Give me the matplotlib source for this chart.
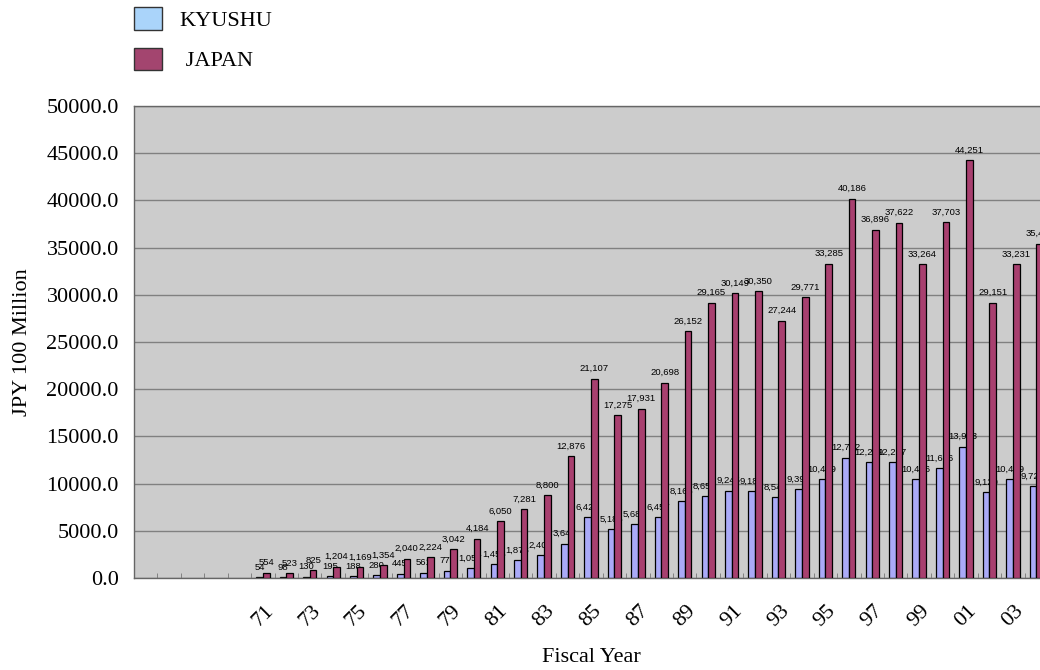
import numpy as np
import matplotlib.pyplot as plt
from matplotlib.patches import Patch

# 年度 (66-70 は空の区分)
years = ['66', '67', '68', '69', '70',
         '71', '72', '73', '74', '75', '76', '77', '78', '79', '80',
         '81', '82', '83', '84', '85', '86', '87', '88', '89', '90',
         '91', '92', '93', '94', '95', '96', '97', '98', '99', '00',
         '01', '02', '03', '04']

kyushu = [np.nan] * 5 + [54, 98, 130, 195, 188, 280, 445, 561, 772, 1057,
                         1456, 1873, 2409, 3647, 6429, 5185, 5687, 6457, 8165, 8658,
                         9245, 9187, 8541, 9391, 10469, 12732, 12259, 12257, 10476, 11636,
                         13913, 9120, 10479, 9721]

japan = [np.nan] * 5 + [554, 523, 825, 1204, 1169, 1354, 2040, 2224, 3042, 4184,
                        6050, 7281, 8800, 12876, 21107, 17275, 17931, 20698, 26152, 29165,
                        30149, 30350, 27244, 29771, 33285, 40186, 36896, 37622, 33264, 37703,
                        44251, 29151, 33231, 35404]

# 奇数年だけラベルを表示
tick_labels = [y if (int(y) % 2 == 1 and y not in ('67', '69')) else '' for y in years]

serif = 'Liberation Serif'
fig = plt.figure(figsize=(10.4, 6.7), dpi=100)
ax = fig.add_axes([134 / 1040, 1 - 578 / 670, 914 / 1040, 472 / 670])
ax.set_facecolor('#cccccc')

x = np.arange(len(years))
w = 0.285
b1 = ax.bar(x - w / 2, kyushu, w, color='#aaaaf8', edgecolor='black', linewidth=0.9, zorder=2)
l1 = ax.bar_label(b1, labels=['' if np.isnan(v) else '{:,.0f}'.format(v) for v in kyushu],
                  padding=4, fontsize=6.8, family='Liberation Sans')
b2 = ax.bar(x + w / 2, japan, w, color='#a8406f', edgecolor='black', linewidth=0.9, zorder=4)
l2 = ax.bar_label(b2, labels=['' if np.isnan(v) else '{:,.0f}'.format(v) for v in japan],
                  padding=4, fontsize=6.8, family='Liberation Sans')
for t in l1:
    t.set_zorder(3)
for t in l2:
    t.set_zorder(5)

ax.set_xlim(-0.5, len(years) - 0.5)
ax.set_ylim(0, 50000)
ax.set_yticks(np.arange(0, 50001, 5000))
ax.set_yticklabels(['{:.1f}'.format(v) for v in np.arange(0, 50001, 5000)], family=serif, fontsize=16)
ax.tick_params(axis='y', length=0, pad=11)
ax.yaxis.grid(True, color='#808080', linewidth=1, zorder=0)
ax.set_axisbelow(True)

ax.set_xticks(x)
ax.set_xticklabels(tick_labels, rotation=45, ha='center', va='top', family=serif, fontsize=16)
ax.set_xticks(np.arange(-0.5, len(years), 1), minor=True)
ax.tick_params(axis='x', which='major', length=0, pad=17)
ax.tick_params(axis='x', which='minor', direction='in', length=3.5, color='#777777')

for s in ax.spines.values():
    s.set_color('#666666')
    s.set_linewidth(1)

ax.set_xlabel('Fiscal Year', family=serif, fontsize=16)
ax.xaxis.set_label_coords(0.5, -0.148)
ax.set_ylabel('JPY 100 Million', family=serif, fontsize=16)
ax.yaxis.set_label_coords(-0.112, 0.5)

handles = [Patch(facecolor='#aad4fa', edgecolor='#333333', linewidth=1),
           Patch(facecolor='#a3456f', edgecolor='#333333', linewidth=1)]
fig.legend(handles, ['KYUSHU', ' JAPAN'], loc='upper left',
           bbox_to_anchor=(134 / 1040, 1 - 7 / 670), frameon=False,
           prop={'family': serif, 'size': 16}, handlelength=1.25, handleheight=1.2,
           handletextpad=0.8, labelspacing=0.75, borderpad=0, borderaxespad=0)

fig.savefig('out.png', dpi=100)
